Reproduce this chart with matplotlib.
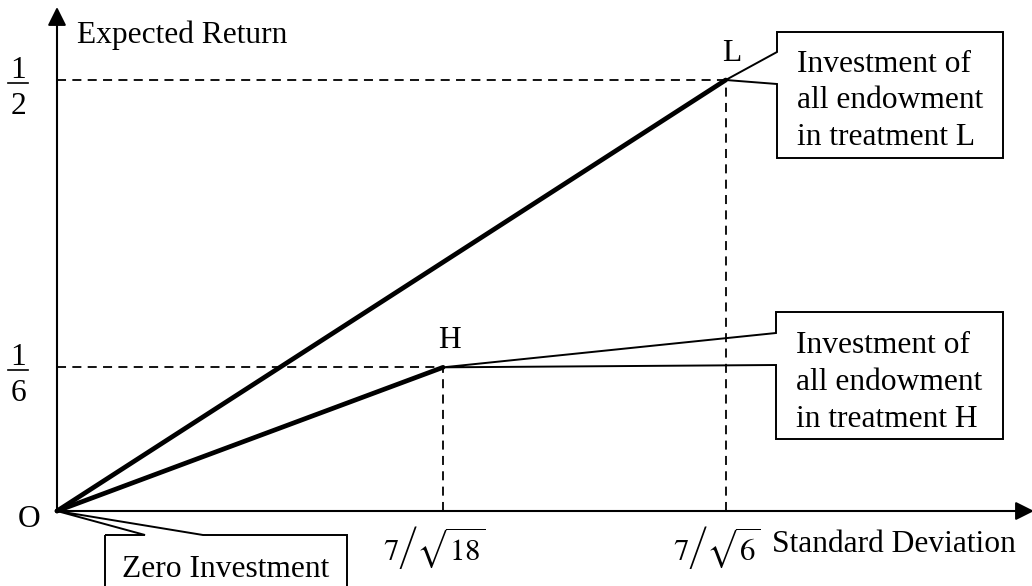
import numpy as np
import matplotlib
matplotlib.use("Agg")
import matplotlib.pyplot as plt
from matplotlib.patches import Polygon, Rectangle, FancyArrowPatch

plt.rcParams['font.family'] = ['Liberation Serif', 'DejaVu Serif']
plt.rcParams['mathtext.fontset'] = 'stix'

# ---- data ----
points = ["O", "H", "L"]
std_dev = [0.0, 7 / np.sqrt(18), 7 / np.sqrt(6)]
expected_return = [0.0, 1 / 6, 1 / 2]
x_tick_labels = [r"$7\left/\sqrt{18}\right.$", r"$7\left/\sqrt{6}\right.$"]
x_tick_fallback = [r"$7/\sqrt{18}$", r"$7/\sqrt{6}$"]
y_tick_labels = [("1", "6"), ("1", "2")]
x_label = "Standard Deviation"
y_label = "Expected Return"
callout_H = ["Investment of", "all endowment", "in treatment H"]
callout_L = ["Investment of", "all endowment", "in treatment L"]
callout_O = "Zero Investment"

W, H = 1032, 586
FS = 22.7
fig = plt.figure(figsize=(W / 100, H / 100), dpi=100)

# data axes mapped to pixel layout
x0, kx = 57, 234.0
y0, ky = 511, 862.0
ax = fig.add_axes([0, 0, 1, 1])
ax.set_xlim(-x0 / kx, (W - x0) / kx)
ax.set_ylim(-(H - y0) / ky, y0 / ky)
ax.axis('off')

# overlay axes in pixel coords (y down) for annotations
ov = fig.add_axes([0, 0, 1, 1], facecolor='none')
ov.set_xlim(0, W)
ov.set_ylim(H, 0)
ov.axis('off')

def to_pix(x, y):
    d = ax.transData.transform((x, y))
    return d[0], H - d[1]

# dashed guides
dash = dict(color='black', lw=1.3, ls=(0, (5, 3.5)), zorder=2)
for sx, er in zip(std_dev[1:], expected_return[1:]):
    ax.plot([0, sx], [er, er], **dash)
    ax.plot([sx, sx], [0, er], **dash)

# thick lines from origin
for sx, er in zip(std_dev[1:], expected_return[1:]):
    ax.plot([std_dev[0], sx], [expected_return[0], er], color='black',
            lw=3.4, solid_capstyle='round', zorder=4)

# axes with arrows
ox, oy = to_pix(0, 0)
ov.add_patch(FancyArrowPatch((ox, oy), (ox, 7), arrowstyle='-|>',
                             mutation_scale=28, lw=1.5, color='black',
                             shrinkA=0, shrinkB=0, zorder=5))
ov.add_patch(FancyArrowPatch((ox, oy), (1034, oy), arrowstyle='-|>',
                             mutation_scale=28, lw=1.5, color='black',
                             shrinkA=0, shrinkB=0, zorder=5))

# axis labels
ov.text(77, 43, y_label, fontsize=FS, ha='left', va='baseline')
ov.text(772, 552, x_label, fontsize=FS, ha='left', va='baseline')
ov.text(29, 527, points[0], fontsize=FS, ha='center', va='baseline')

# x tick labels
tick_texts = []
for sx, lab in zip(std_dev[1:], x_tick_labels):
    px, _ = to_pix(sx, 0)
    tick_texts.append(ov.text(px - 9, 560, lab, fontsize=FS - 0.5, ha='center',
                              va='baseline'))

# y tick labels (stacked fractions)
for er, (num, den) in zip(expected_return[1:], y_tick_labels):
    _, py = to_pix(0, er)
    bar = py + 3
    ov.plot([8, 28], [bar, bar], color='black', lw=1.2)
    ov.text(18, bar - 5, num, fontsize=FS, ha='center', va='baseline')
    ov.text(18, bar + 31, den, fontsize=FS, ha='center', va='baseline')

# point labels
for name, sx, er in zip(points[1:], std_dev[1:], expected_return[1:]):
    px, py = to_pix(sx, er)
    ov.text(px + 6, py - 19, name, fontsize=FS, ha='center', va='baseline')

def callout(box, tip, gap_y, lines, baselines):
    l, t, r, b = box
    ov.add_patch(Rectangle((l, t), r - l, b - t, facecolor='white',
                           edgecolor='none', zorder=6))
    poly = [(l, gap_y[0]), tip, (l, gap_y[1]), (l, b), (r, b), (r, t), (l, t)]
    ov.add_patch(Polygon(poly, closed=True, facecolor='none',
                         edgecolor='black', lw=1.4, zorder=7,
                         joinstyle='miter'))
    for s, yb in zip(lines, baselines):
        ov.text(l + 20, yb, s, fontsize=FS, ha='left', va='baseline', zorder=8)

tipL = to_pix(std_dev[2], expected_return[2])
tipH = to_pix(std_dev[1], expected_return[1])
callout((777, 32, 1003, 158), tipL, (52, 84), callout_L, [72, 108, 145])
callout((776, 312, 1003, 439), tipH, (333, 365), callout_H, [353, 390, 427])

# zero investment callout
l, t, r, b = 105, 535, 347, 610
ov.add_patch(Rectangle((l, t), r - l, b - t, facecolor='white',
                       edgecolor='none', zorder=6))
ov.add_patch(Polygon([(l, t), (145, t), (ox, oy), (203, t), (r, t), (r, b), (l, b)],
                     closed=True, facecolor='none', edgecolor='black', lw=1.4,
                     zorder=7))
ov.text((l + r) / 2, 577, callout_O, fontsize=FS, ha='center', va='baseline', zorder=8)

try:
    fig.canvas.draw()
except Exception:
    for t, s in zip(tick_texts, x_tick_fallback):
        t.set_text(s)

fig.savefig("out.png", dpi=100)
